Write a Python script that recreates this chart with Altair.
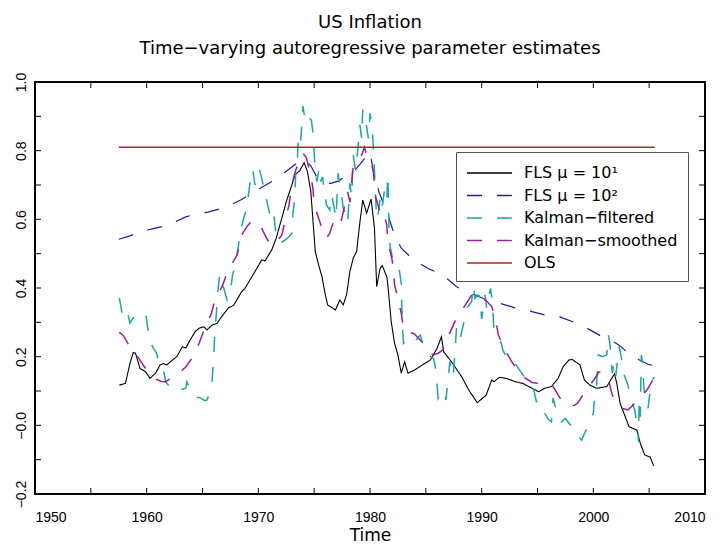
import altair as alt
import pandas as pd

# ---------------- data ----------------
series_names = ["FLS \u03bc = 10\u00b9", "FLS \u03bc = 10\u00b2", "Kalman\u2212filtered",
                "Kalman\u2212smoothed", "OLS"]
series_colors = ["#000000", "#1c1ca8", "#17a8a8", "#a01aa8", "#b42222"]
series_dashes = [[1, 0], [15, 15], [15, 15], [15, 15], [1, 0]]
series_widths = [1.1, 1.2, 1.5, 1.5, 1.5]

fls1_years = [1957.55, 1958.1, 1958.5, 1958.8, 1959.0, 1959.4, 1959.9, 1960.3, 1960.8, 1961.2,
              1961.5, 1961.8, 1962.3, 1962.7, 1963.2, 1963.5, 1963.9, 1964.35, 1964.7, 1965.1,
              1965.4, 1965.85, 1966.3, 1966.7, 1967.3, 1967.8, 1968.5, 1968.8, 1969.7, 1970.3,
              1970.6, 1971.2, 1971.6, 1972.1, 1972.5, 1973.0, 1973.3, 1973.7, 1974.1, 1974.4,
              1974.7, 1974.9, 1975.1, 1975.4, 1975.7, 1976.0, 1976.2, 1976.9, 1977.3, 1977.6,
              1977.9, 1978.2, 1978.5, 1978.8, 1979.1, 1979.35, 1979.7, 1980.1, 1980.4, 1980.6,
              1980.9, 1981.1, 1981.5, 1981.6, 1981.9, 1982.2, 1982.5, 1982.8, 1983.1, 1983.4,
              1984.0, 1984.6, 1985.4, 1986.0, 1986.4, 1986.6, 1987.3, 1988.2, 1988.9, 1989.6,
              1990.4, 1990.9, 1991.1, 1991.6, 1992.3, 1993.0, 1993.7, 1994.5, 1995.1, 1995.65,
              1996.25, 1996.85, 1997.3, 1997.8, 1998.1, 1998.8, 1999.2, 1999.7, 2000.3, 2001.2,
              2001.9, 2002.1, 2002.4, 2002.8, 2003.2, 2003.9, 2004.2, 2004.6, 2005.1, 2005.4]
fls1_values = [0.117, 0.122, 0.18, 0.212, 0.21, 0.166, 0.156, 0.137, 0.152, 0.176,
               0.18, 0.176, 0.19, 0.20, 0.229, 0.225, 0.249, 0.273, 0.283, 0.287,
               0.278, 0.292, 0.297, 0.316, 0.341, 0.35, 0.389, 0.399, 0.448, 0.482,
               0.479, 0.511, 0.545, 0.603, 0.651, 0.70, 0.731, 0.741, 0.765, 0.739,
               0.681, 0.593, 0.506, 0.467, 0.433, 0.38, 0.351, 0.336, 0.365, 0.351,
               0.38, 0.448, 0.487, 0.506, 0.593, 0.656, 0.618, 0.659, 0.574, 0.404,
               0.457, 0.465, 0.433, 0.409, 0.302, 0.239, 0.205, 0.152, 0.185, 0.152,
               0.161, 0.174, 0.19, 0.224, 0.258, 0.214, 0.185, 0.142, 0.10, 0.066,
               0.088, 0.132, 0.127, 0.14, 0.136, 0.127, 0.122, 0.108, 0.098, 0.108,
               0.113, 0.137, 0.171, 0.19, 0.192, 0.176, 0.132, 0.117, 0.108, 0.113,
               0.15, 0.122, 0.064, 0.03, -0.004, -0.014, -0.052, -0.086, -0.093, -0.118]

fls2_years = [1957.5, 1958.5, 1959.5, 1960.5, 1961.5, 1962.5, 1963.5, 1964.5, 1965.5, 1966.5,
              1967.5, 1968.5, 1969.5, 1970.5, 1971.5, 1972.5, 1973.5, 1974.2, 1974.7, 1975.2,
              1975.7, 1976.5, 1977.2, 1978.0, 1978.7, 1979.3, 1979.8, 1980.0, 1980.3, 1980.8,
              1981.2, 1981.6, 1982.2, 1982.8, 1983.9, 1985.2, 1986.5, 1987.7, 1988.5, 1989.5,
              1990.5, 1991.6, 1993.0, 1994.3, 1995.7, 1997.0, 1998.3, 1999.7, 2001.0, 2002.0,
              2002.4, 2003.5, 2004.9, 2005.5]
fls2_values = [0.542, 0.552, 0.565, 0.572, 0.58, 0.592, 0.607, 0.617, 0.621, 0.63,
               0.642, 0.658, 0.678, 0.697, 0.715, 0.74, 0.765, 0.773, 0.756, 0.725,
               0.708, 0.705, 0.712, 0.729, 0.745, 0.768, 0.79, 0.795, 0.74, 0.68,
               0.647, 0.613, 0.554, 0.516, 0.482, 0.457, 0.438, 0.405, 0.39, 0.378,
               0.365, 0.356, 0.342, 0.333, 0.321, 0.316, 0.30, 0.278, 0.254, 0.24,
               0.231, 0.20, 0.178, 0.173]

kf_years = [1957.55, 1957.8, 1958.0, 1958.2, 1958.5, 1958.8, 1959.1, 1959.4, 1959.9, 1960.1,
            1960.3, 1960.6, 1960.9, 1961.1, 1961.5, 1961.7, 1962.0, 1962.4, 1962.9, 1963.2,
            1963.5, 1963.6, 1964.0, 1964.35, 1964.8, 1965.2, 1965.4, 1965.6, 1965.85, 1966.0,
            1966.1, 1966.25, 1966.4, 1966.55, 1966.7, 1966.9, 1967.2, 1967.5, 1967.7, 1967.9,
            1968.1, 1968.35, 1968.6, 1968.95, 1969.1, 1969.3, 1969.5, 1969.7, 1969.9, 1970.1,
            1970.3, 1970.5, 1970.75, 1970.9, 1971.2, 1971.4, 1971.6, 1971.9, 1972.2, 1972.6,
            1973.0, 1973.1, 1973.25, 1973.35, 1973.5, 1973.6, 1973.8, 1974.0, 1974.2, 1974.4,
            1974.75, 1974.9, 1975.0, 1975.1, 1975.25, 1975.45, 1975.6, 1975.75, 1975.9, 1976.1,
            1976.4, 1976.55, 1976.75, 1976.95, 1977.15, 1977.3, 1977.45, 1977.6, 1977.8, 1978.0,
            1978.2, 1978.35, 1978.5, 1978.7, 1978.9, 1979.1, 1979.25, 1979.35, 1979.5, 1979.7,
            1979.85, 1980.0, 1980.15, 1980.25, 1980.35, 1980.45, 1980.6, 1980.75, 1980.95, 1981.1,
            1981.3, 1981.5, 1981.6, 1981.7, 1981.8, 1982.0, 1982.3, 1982.6, 1982.8, 1982.9,
            1983.0, 1983.3, 1983.6, 1984.0, 1984.5, 1984.75, 1985.2, 1985.7, 1985.9, 1986.0,
            1986.1, 1986.4, 1986.6, 1986.8, 1987.15, 1987.45, 1987.75, 1988.05, 1988.4, 1988.65,
            1989.1, 1989.25, 1989.4, 1989.6, 1989.85, 1990.0, 1990.3, 1990.45, 1990.8, 1990.95,
            1991.1, 1991.5, 1991.8, 1991.9, 1992.2, 1992.5, 1993.0, 1993.4, 1993.9, 1994.3,
            1994.6, 1994.9, 1995.2, 1995.35, 1995.65, 1996.0, 1996.25, 1996.4, 1996.7, 1997.15,
            1997.5, 1998.2, 1998.6, 1998.95, 1999.4, 2000.0, 2000.1, 2000.3, 2000.35, 2000.45,
            2000.8, 2001.2, 2001.35, 2001.5, 2001.6, 2001.7, 2001.85, 2002.0, 2002.3, 2002.5,
            2002.7, 2003.0, 2003.15, 2003.35, 2003.7, 2003.95, 2004.05, 2004.1, 2004.2, 2004.3,
            2004.45, 2004.5, 2004.6, 2004.9, 2005.2, 2005.5]
kf_values = [0.371, 0.327, 0.33, 0.342, 0.298, 0.313, 0.318, 0.321, 0.327, 0.283,
             0.244, 0.225, 0.21, 0.176, 0.161, 0.127, 0.115, 0.103, 0.108, 0.105,
             0.108, 0.127, 0.10, 0.083, 0.08, 0.072, 0.074, 0.09, 0.125, 0.20,
             0.27, 0.33, 0.40, 0.44, 0.42, 0.40, 0.365, 0.389, 0.44, 0.462,
             0.50, 0.55, 0.593, 0.632, 0.666, 0.72, 0.745, 0.70, 0.72, 0.745,
             0.72, 0.686, 0.656, 0.632, 0.593, 0.61, 0.549, 0.53, 0.535, 0.545,
             0.559, 0.618, 0.656, 0.734, 0.78, 0.85, 0.83, 0.93, 0.884, 0.899,
             0.889, 0.85, 0.797, 0.736, 0.71, 0.75, 0.71, 0.724, 0.686, 0.642,
             0.627, 0.671, 0.64, 0.603, 0.734, 0.69, 0.676, 0.632, 0.618, 0.59,
             0.705, 0.666, 0.787, 0.743, 0.80, 0.875, 0.836, 0.92, 0.89, 0.87,
             0.836, 0.909, 0.875, 0.84, 0.78, 0.70, 0.60, 0.62, 0.671, 0.64,
             0.686, 0.656, 0.729, 0.58, 0.52, 0.49, 0.462, 0.457, 0.414, 0.29,
             0.239, 0.249, 0.239, 0.244, 0.263, 0.234, 0.205, 0.195, 0.161, 0.122,
             0.079, 0.10, 0.093, 0.074, 0.185, 0.142, 0.283, 0.249, 0.30, 0.341,
             0.36, 0.409, 0.37, 0.38, 0.375, 0.31, 0.38, 0.341, 0.399, 0.36,
             0.28, 0.263, 0.234, 0.219, 0.20, 0.20, 0.18, 0.161, 0.137, 0.12,
             0.113, 0.069, 0.069, 0.059, 0.035, 0.016, 0.01, 0.08, 0.04, 0.01,
             0.02, -0.01, -0.03, -0.043, -0.01, 0.035, 0.079, 0.12, 0.161, 0.205,
             0.20, 0.205, 0.263, 0.234, 0.19, 0.152, 0.18, 0.142, 0.229, 0.20,
             0.151, 0.127, 0.11, 0.079, 0.045, -0.004, -0.048, 0.07, 0.025, 0.205,
             0.171, 0.122, 0.083, 0.05, 0.132, 0.14]

ks_years = [1957.55, 1957.9, 1958.4, 1958.8, 1959.3, 1959.8, 1960.3, 1960.8, 1961.3, 1961.7,
            1962.3, 1963.0, 1963.5, 1964.05, 1964.7, 1965.25, 1965.8, 1966.15, 1966.75, 1967.3,
            1968.1, 1968.5, 1969.0, 1969.4, 1969.85, 1970.2, 1970.6, 1971.0, 1971.4, 1972.1,
            1972.45, 1972.75, 1973.0, 1973.3, 1973.7, 1974.0, 1974.3, 1974.7, 1974.9, 1975.0,
            1975.4, 1975.8, 1976.1, 1976.4, 1976.7, 1977.0, 1977.45, 1978.0, 1978.2, 1978.5,
            1979.0, 1979.25, 1979.5, 1979.7, 1980.0, 1980.3, 1980.45, 1980.9, 1981.2, 1981.5,
            1981.6, 1981.95, 1982.1, 1982.2, 1982.5, 1982.8, 1983.0, 1983.4, 1983.9, 1984.3,
            1984.75, 1985.2, 1985.65, 1986.1, 1986.55, 1987.0, 1987.6, 1988.35, 1989.1, 1989.6,
            1990.1, 1990.5, 1990.9, 1991.2, 1991.5, 1992.1, 1992.8, 1993.7, 1994.5, 1995.2,
            1995.8, 1996.4, 1997.0, 1997.45, 1997.9, 1998.3, 1998.6, 1999.1, 1999.6, 2000.0,
            2000.5, 2000.9, 2001.3, 2001.6, 2001.9, 2002.5, 2003.1, 2003.6, 2004.2, 2004.9,
            2005.5]
ks_values = [0.271, 0.262, 0.234, 0.215, 0.195, 0.17, 0.147, 0.135, 0.128, 0.127,
             0.14, 0.156, 0.17, 0.195, 0.239, 0.287, 0.326, 0.37, 0.404, 0.452,
             0.496, 0.554, 0.58, 0.595, 0.593, 0.58, 0.554, 0.53, 0.525, 0.554,
             0.603, 0.642, 0.70, 0.739, 0.773, 0.792, 0.78, 0.729, 0.686, 0.642,
             0.603, 0.564, 0.545, 0.56, 0.59, 0.613, 0.598, 0.68, 0.65, 0.758,
             0.775, 0.787, 0.81, 0.787, 0.778, 0.739, 0.671, 0.622, 0.627, 0.583,
             0.535, 0.487, 0.457, 0.409, 0.37, 0.326, 0.283, 0.27, 0.268, 0.255,
             0.239, 0.22, 0.205, 0.21, 0.22, 0.258, 0.302, 0.341, 0.38, 0.384,
             0.37, 0.36, 0.346, 0.316, 0.263, 0.219, 0.18, 0.142, 0.125, 0.122,
             0.115, 0.113, 0.08, 0.064, 0.055, 0.058, 0.065, 0.09, 0.113, 0.13,
             0.155, 0.155, 0.14, 0.10, 0.069, 0.05, 0.045, 0.06, 0.079, 0.108,
             0.142]

ols_years = [1957.5, 2005.5]
ols_values = [0.81, 0.81]

x_tick_values = [1950, 1955, 1960, 1965, 1970, 1975, 1980, 1985, 1990, 1995, 2000, 2005, 2010]
x_label_values = [1950, 1960, 1970, 1980, 1990, 2000, 2010]
y_tick_values = [-0.2, -0.1, 0.0, 0.1, 0.2, 0.3, 0.4, 0.5, 0.6, 0.7, 0.8, 0.9, 1.0]
y_label_values = [-0.2, 0.0, 0.2, 0.4, 0.6, 0.8, 1.0]

# ---------------- build table ----------------
all_years = [fls1_years, fls2_years, kf_years, ks_years, ols_years]
all_values = [fls1_values, fls2_values, kf_values, ks_values, ols_values]
frames = []
for name, ys, vs in zip(series_names, all_years, all_values):
    frames.append(pd.DataFrame({"year": ys, "value": vs, "series": name}))
df = pd.concat(frames, ignore_index=True)

W, H = 670, 412
TICK = 6
FONT = "DejaVu Sans"
TICKFONT = "Liberation Sans"

x_scale = alt.Scale(domain=[1950, 2010], nice=False, zero=False)
y_scale = alt.Scale(domain=[-0.2, 1.0], nice=False, zero=False)

x_axis = alt.Axis(values=x_label_values, format="d", ticks=False, tickSize=0,
                  domain=False, grid=False, labelFont=TICKFONT, labelFontSize=14,
                  labelColor="#000000", labelPadding=16, titleFont=FONT,
                  titleFontSize=17, titleFontWeight="normal", titleColor="#000000",
                  titlePadding=3)
y_axis = alt.Axis(values=y_label_values, ticks=False, tickSize=0, domain=False,
                  grid=False, labelAngle=270, labelAlign="center",
                  labelBaseline="bottom", labelFont=TICKFONT, labelFontSize=14,
                  labelColor="#000000", labelPadding=7,
                  labelExpr="datum.value == 0 ? '\u22120.0' : format(datum.value, '.1f')")

color_enc = alt.Color(
    "series:N",
    scale=alt.Scale(domain=series_names, range=series_colors),
    legend=alt.Legend(
        title=None, orient="none", legendX=421, legendY=70,
        symbolType="M-1,0H3.5", symbolSize=400, symbolStrokeWidth=1.3,
        labelFont=FONT, labelFontSize=16, labelColor="#000000", labelOffset=36,
        padding=10, rowPadding=3.5, strokeColor="#555555", fillColor="#ffffff",
    ),
)
dash_enc = alt.StrokeDash(
    "series:N",
    scale=alt.Scale(domain=series_names, range=series_dashes),
    legend=None,
)

layers = []
for i, name in enumerate(series_names):
    layers.append(
        alt.Chart(df).transform_filter(alt.datum.series == name)
        .mark_line(strokeWidth=series_widths[i], clip=True)
        .encode(
            x=alt.X("year:Q", scale=x_scale, title="Time", axis=x_axis),
            y=alt.Y("value:Q", scale=y_scale, title=None, axis=y_axis),
            color=color_enc,
            strokeDash=dash_enc,
        )
    )

xt = pd.DataFrame({"tx": x_tick_values})
yt = pd.DataFrame({"ty": y_tick_values})
tick_x_bottom = alt.Chart(xt).mark_rule(color="#000000", strokeWidth=1).encode(
    x=alt.X("tx:Q", scale=x_scale, title="Time", axis=x_axis), y=alt.value(H), y2=alt.value(H - TICK))
tick_x_top = alt.Chart(xt).mark_rule(color="#000000", strokeWidth=1).encode(
    x=alt.X("tx:Q", scale=x_scale, title="Time", axis=x_axis), y=alt.value(0), y2=alt.value(TICK))
tick_y_left = alt.Chart(yt).mark_rule(color="#000000", strokeWidth=1).encode(
    y=alt.Y("ty:Q", scale=y_scale, title=None, axis=y_axis), x=alt.value(0), x2=alt.value(TICK))
tick_y_right = alt.Chart(yt).mark_rule(color="#000000", strokeWidth=1).encode(
    y=alt.Y("ty:Q", scale=y_scale, title=None, axis=y_axis), x=alt.value(W), x2=alt.value(W - TICK))

chart = alt.layer(
    *layers, tick_x_bottom, tick_x_top, tick_y_left, tick_y_right
).properties(
    width=W, height=H,
    background="#ffffff",
    title=alt.TitleParams(
        text="US Inflation",
        subtitle="Time\u2212varying autoregressive parameter estimates",
        font=FONT, fontSize=18, fontWeight="normal", color="#000000",
        subtitleFont=FONT, subtitleFontSize=18, subtitleColor="#000000",
        subtitlePadding=8, anchor="middle", frame="group", offset=14,
    ),
    autosize=alt.AutoSizeParams(type="none"),
    padding={"left": 27, "top": 74, "right": 15, "bottom": 52},
).configure_view(
    stroke="#000000", strokeWidth=2
)

chart.save("out.html", embed_options={"renderer": "svg", "actions": False})
